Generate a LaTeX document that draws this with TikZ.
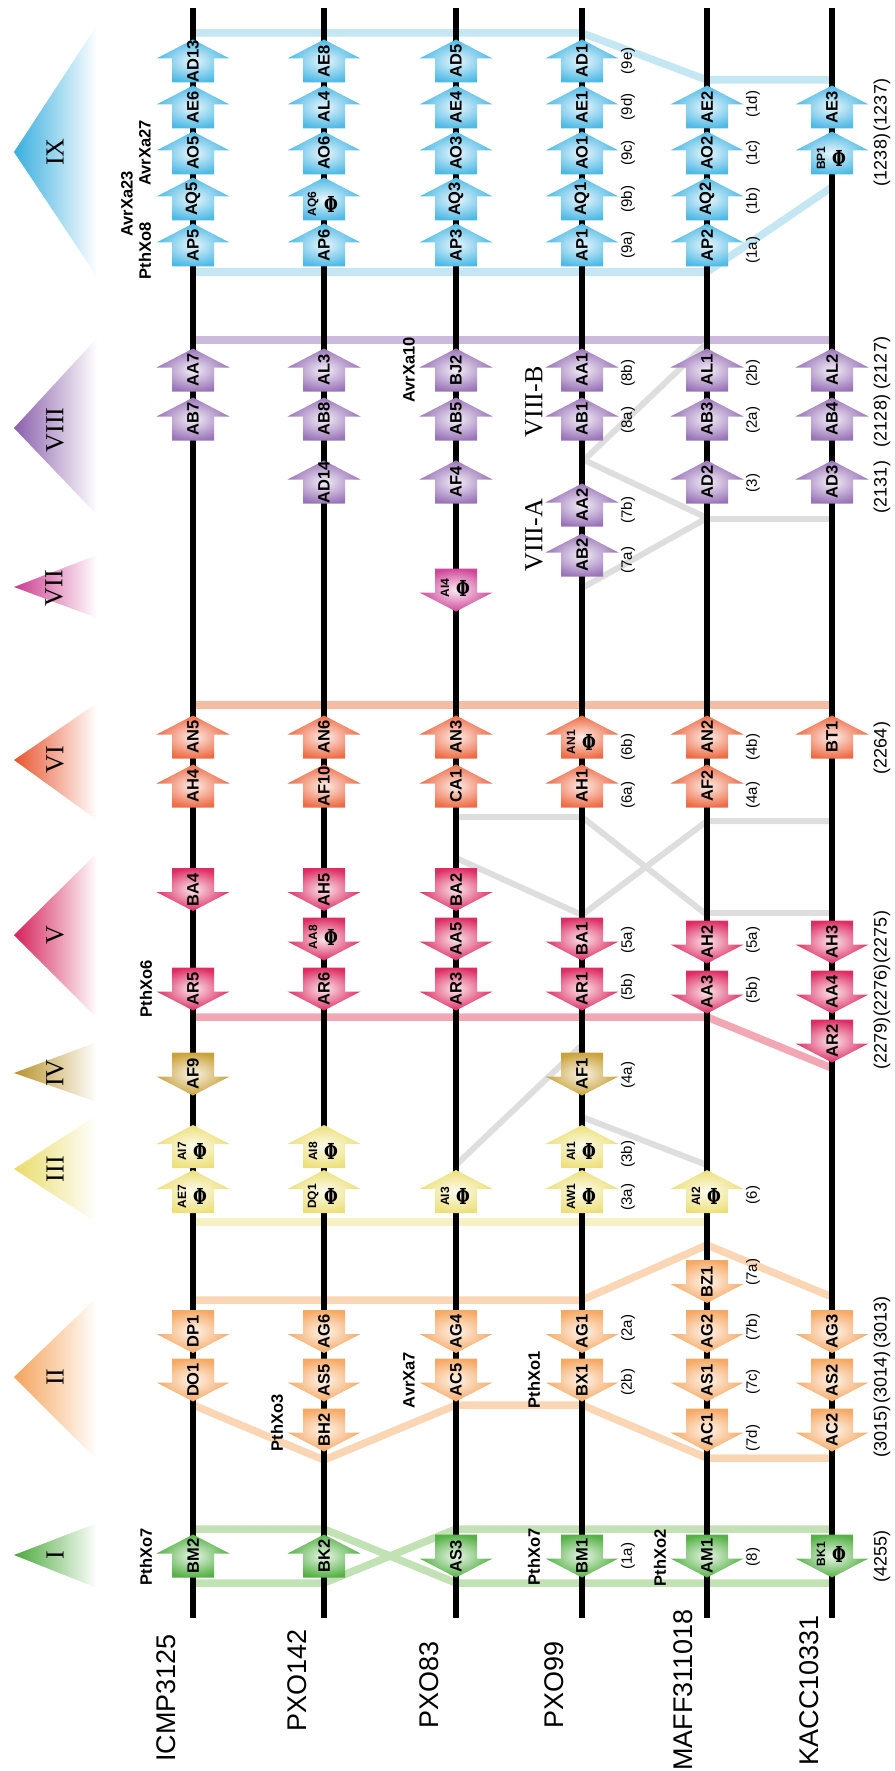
\documentclass[tikz,border=0pt]{standalone}
\usepackage{fontspec}
\setmainfont{Liberation Serif}
\setsansfont{Liberation Sans}
\newfontfamily\phifont{DejaVu Serif}
\definecolor{cIX}{HTML}{4DB9E5}
\definecolor{cIXt}{HTML}{38AEDF}
\definecolor{cIXb}{HTML}{C5E6F3}
\definecolor{cVIII}{HTML}{9A74B8}
\definecolor{cVIIIt}{HTML}{8A60AC}
\definecolor{cVIIIb}{HTML}{CBBADD}
\definecolor{cVII}{HTML}{D0479A}
\definecolor{cVIIt}{HTML}{CC3A8E}
\definecolor{cVI}{HTML}{EE6B45}
\definecolor{cVIt}{HTML}{E8552F}
\definecolor{cVIb}{HTML}{F5BDA3}
\definecolor{cV}{HTML}{DD2D63}
\definecolor{cVt}{HTML}{D5205A}
\definecolor{cVb}{HTML}{F2A8B4}
\definecolor{cIV}{HTML}{C9A23A}
\definecolor{cIVt}{HTML}{B8922A}
\definecolor{cIII}{HTML}{EDE07A}
\definecolor{cIIIt}{HTML}{E9DC6A}
\definecolor{cIIIb}{HTML}{F6F0C2}
\definecolor{cII}{HTML}{F6A964}
\definecolor{cIIt}{HTML}{F4A35A}
\definecolor{cIIb}{HTML}{FBD6B5}
\definecolor{cI}{HTML}{55B145}
\definecolor{cIt}{HTML}{4AA83A}
\definecolor{cIb}{HTML}{C2E1B4}
\definecolor{gline}{HTML}{DEDEDE}
\newcommand{\myphi}{\scalebox{0.72}[1.0]{Φ}}
% up arrow: name, x, centre y, colour, label
\newcommand{\UA}[5]{%
\shade[inner color=#4!12, outer color=#4] ({#2-21},{#3+21.5}) -- ({#2-21},{#3-2.5}) -- ({#2-36.5},{#3-2.5}) -- (#2,{#3-21.5}) -- ({#2+36.5},{#3-2.5}) -- ({#2+21},{#3-2.5}) -- ({#2+21},{#3+21.5}) -- cycle;
\node[albl] (#1) at (#2,#3) {#5};}
\newcommand{\DA}[5]{%
\shade[inner color=#4!12, outer color=#4] ({#2-21},{#3-21.5}) -- ({#2+21},{#3-21.5}) -- ({#2+21},{#3+2.5}) -- ({#2+36.5},{#3+2.5}) -- (#2,{#3+21.5}) -- ({#2-36.5},{#3+2.5}) -- ({#2-21},{#3+2.5}) -- cycle;
\node[albl] (#1) at (#2,#3) {#5};}
\newcommand{\UAP}[5]{%
\shade[inner color=#4!12, outer color=#4] ({#2-21},{#3+21.5}) -- ({#2-21},{#3-2.5}) -- ({#2-36.5},{#3-2.5}) -- (#2,{#3-21.5}) -- ({#2+36.5},{#3-2.5}) -- ({#2+21},{#3-2.5}) -- ({#2+21},{#3+21.5}) -- cycle;
\node[slbl] (#1) at ({#2-11},{#3+5}) {#5};
\node[phi] (#1p) at ({#2+7},{#3+5}) {\myphi};}
\newcommand{\DAP}[5]{%
\shade[inner color=#4!12, outer color=#4] ({#2-21},{#3-21.5}) -- ({#2+21},{#3-21.5}) -- ({#2+21},{#3+2.5}) -- ({#2+36.5},{#3+2.5}) -- (#2,{#3+21.5}) -- ({#2-36.5},{#3+2.5}) -- ({#2-21},{#3+2.5}) -- cycle;
\node[slbl] (#1) at ({#2-11},{#3-2}) {#5};
\node[phi] (#1p) at ({#2+7},{#3-2}) {\myphi};}
\newcommand{\TRI}[4]{% apex y, top y, bottom y, colour
\shade[left color=#4, right color=white] (14,#1) -- (97,#2) -- (97,#3) -- cycle;}
\begin{document}
\begin{tikzpicture}[x=1pt,y=-1pt,
 albl/.style={rotate=90, inner sep=0pt, font=\sffamily\bfseries\fontsize{16.5}{16.5}\selectfont},
 slbl/.style={rotate=90, inner sep=0pt, font=\sffamily\bfseries\fontsize{12}{12}\selectfont},
 phi/.style={inner sep=0pt, font=\phifont\bfseries\fontsize{22}{22}\selectfont},
 eff/.style={rotate=90, inner sep=0pt, font=\sffamily\bfseries\fontsize{16.5}{16.5}\selectfont},
 sub/.style={rotate=90, inner sep=0pt, font=\sffamily\fontsize{15}{15}\selectfont},
 num/.style={rotate=90, inner sep=0pt, font=\sffamily\fontsize{18}{18}\selectfont},
 strain/.style={rotate=90, inner sep=0pt, font=\sffamily\fontsize{27}{27}\selectfont},
 roman/.style={rotate=90, inner sep=0pt, font=\fontsize{26}{26}\selectfont},
 band/.style={line width=7.5pt, line join=round},
 gl/.style={line width=6pt, draw=gline, line join=round},
 strainline/.style={line width=6pt, draw=black},
]
\useasboundingbox (0,0) rectangle (894,1771);
% triangles
\TRI{152}{25}{277}{cIXt}
\TRI{428}{338}{515}{cVIIIt}
\TRI{587}{555}{618}{cVIIt}
\TRI{760}{703}{820}{cVIt}
\TRI{935}{853}{1018}{cVt}
\TRI{1073}{1042}{1102}{cIVt}
\TRI{1169}{1115}{1223}{cIIIt}
\TRI{1377}{1297}{1460}{cIIt}
\TRI{1555}{1523}{1588}{cIt}
\node[roman] (tIX) at (55,152) {IX};
\node[roman] (tVIII) at (55,430) {VIII};
\node[roman] (tVII) at (54,588) {VII};
\node[roman] (tVI) at (55,760) {VI};
\node[roman] (tV) at (55,935) {V};
\node[roman] (tIV) at (55,1073) {IV};
\node[roman] (tIII) at (55,1169) {III};
\node[roman] (tII) at (55,1377) {II};
\node[roman] (tI) at (55,1555) {I};
% bands
\draw[band, cIXb] (193,33) -- (582,33) -- (707,80) -- (832,80);
\draw[band, cIXb] (193,272) -- (707,272) -- (832,187);
\draw[band, cVIIIb] (193,340) -- (832,340);
\draw[band, cVIb] (193,705) -- (832,705);
\draw[band, cVb] (193,1017) -- (707,1017) -- (834,1069);
\draw[band, cIIIb] (193,1222) -- (707,1222);
\draw[band, cIIb] (193,1300) -- (582,1300) -- (707,1245) -- (832,1297);
\draw[band, cIIb] (193,1405) -- (324,1460) -- (456,1405) -- (582,1405) -- (707,1458) -- (832,1458);
\draw[band, cIb] (193,1529) -- (324,1529) -- (456,1583) -- (832,1583);
\draw[band, cIb] (193,1583) -- (324,1583) -- (456,1529) -- (832,1529);
% grey rearrangement lines
\draw[gl] (707,343) -- (584,460) -- (707,518) -- (582,588);
\draw[gl] (707,519) -- (832,519);
\draw[gl] (456,817) -- (582,817) -- (707,915);
\draw[gl] (832,821) -- (707,821) -- (582,915);
\draw[gl] (456,858) -- (582,915);
\draw[gl] (707,913) -- (832,913);
\draw[gl] (582,1045) -- (456,1165);
\draw[gl] (582,1117) -- (707,1165);
% strain lines
\foreach \x in {193,324,456,582,707,832} \draw[strainline] (\x,8) -- (\x,1618);
% IX
\UA{ad13}{193}{61}{cIX}{AD13}
\UA{ae6}{193}{107}{cIX}{AE6}
\UA{ao5}{193}{153}{cIX}{AO5}
\UA{aq5}{193}{199}{cIX}{AQ5}
\UA{ap5}{193}{245}{cIX}{AP5}
\UA{ae8}{324}{61}{cIX}{AE8}
\UA{al4}{324}{107}{cIX}{AL4}
\UA{ao6}{324}{153}{cIX}{AO6}
\UAP{aq6}{324}{199}{cIX}{AQ6}
\UA{ap6}{324}{245}{cIX}{AP6}
\UA{ad5}{456}{61}{cIX}{AD5}
\UA{ae4}{456}{107}{cIX}{AE4}
\UA{ao3}{456}{153}{cIX}{AO3}
\UA{aq3}{456}{199}{cIX}{AQ3}
\UA{ap3}{456}{245}{cIX}{AP3}
\UA{ad1}{582}{61}{cIX}{AD1}
\UA{ae1}{582}{107}{cIX}{AE1}
\UA{ao1}{582}{153}{cIX}{AO1}
\UA{aq1}{582}{199}{cIX}{AQ1}
\UA{ap1}{582}{245}{cIX}{AP1}
\UA{ae2}{707}{107}{cIX}{AE2}
\UA{ao2}{707}{153}{cIX}{AO2}
\UA{aq2}{707}{199}{cIX}{AQ2}
\UA{ap2}{707}{245}{cIX}{AP2}
\UA{ae3}{832}{107}{cIX}{AE3}
\UAP{bp1}{832}{153}{cIX}{BP1}
% VIII
\UA{aa7}{193}{370}{cVIII}{AA7}
\UA{ab7}{193}{419}{cVIII}{AB7}
\UA{al3}{324}{370}{cVIII}{AL3}
\UA{ab8}{324}{419}{cVIII}{AB8}
\UA{ad14}{324}{482}{cVIII}{AD14}
\UA{bj2}{456}{370}{cVIII}{BJ2}
\UA{ab5}{456}{419}{cVIII}{AB5}
\UA{af4}{456}{482}{cVIII}{AF4}
\UA{aa1}{582}{370}{cVIII}{AA1}
\UA{ab1}{582}{419}{cVIII}{AB1}
\UA{aa2}{582}{505}{cVIII}{AA2}
\UA{ab2}{582}{555}{cVIII}{AB2}
\UA{al1}{707}{370}{cVIII}{AL1}
\UA{ab3}{707}{419}{cVIII}{AB3}
\UA{ad2}{707}{482}{cVIII}{AD2}
\UA{al2}{832}{370}{cVIII}{AL2}
\UA{ab4}{832}{419}{cVIII}{AB4}
\UA{ad3}{832}{482}{cVIII}{AD3}
% VII
\DAP{ai4}{456}{590}{cVII}{AI4}
% VI
\UA{an5}{193}{737}{cVI}{AN5}
\UA{ah4}{193}{786}{cVI}{AH4}
\UA{an6}{324}{737}{cVI}{AN6}
\UA{af10}{324}{786}{cVI}{AF10}
\UA{an3}{456}{737}{cVI}{AN3}
\UA{ca1}{456}{786}{cVI}{CA1}
\UAP{an1}{582}{737}{cVI}{AN1}
\UA{ah1}{582}{786}{cVI}{AH1}
\UA{an2}{707}{737}{cVI}{AN2}
\UA{af2}{707}{786}{cVI}{AF2}
\UA{bt1}{832}{737}{cVI}{BT1}
% V
\DA{ba4}{193}{889.5}{cV}{BA4}
\DA{ar5}{193}{989}{cV}{AR5}
\DA{ah5}{324}{889.5}{cV}{AH5}
\DAP{aa8}{324}{939}{cV}{AA8}
\DA{ar6}{324}{989}{cV}{AR6}
\DA{ba2}{456}{889.5}{cV}{BA2}
\DA{aa5}{456}{939}{cV}{AA5}
\DA{ar3}{456}{989}{cV}{AR3}
\DA{ba1}{582}{939}{cV}{BA1}
\DA{ar1}{582}{989}{cV}{AR1}
\DA{ah2}{707}{942}{cV}{AH2}
\DA{aa3}{707}{992}{cV}{AA3}
\DA{ah3}{832}{942}{cV}{AH3}
\DA{aa4}{832}{992}{cV}{AA4}
\DA{ar2}{832}{1041}{cV}{AR2}
% IV
\DA{af9}{193}{1074}{cIV}{AF9}
\DA{af1}{582}{1074}{cIV}{AF1}
% III
\UAP{ai7}{193}{1146.5}{cIII}{AI7}
\UAP{ae7}{193}{1191.5}{cIII}{AE7}
\UAP{ai8}{324}{1146.5}{cIII}{AI8}
\UAP{dq1}{324}{1191.5}{cIII}{DQ1}
\UAP{ai3}{456}{1191.5}{cIII}{AI3}
\UAP{ai1}{582}{1146.5}{cIII}{AI1}
\UAP{aw1}{582}{1191.5}{cIII}{AW1}
\UAP{ai2}{707}{1191.5}{cIII}{AI2}
% II
\DA{dp1}{193}{1331.5}{cII}{DP1}
\DA{do1}{193}{1380}{cII}{DO1}
\DA{ag6}{324}{1331.5}{cII}{AG6}
\DA{as5}{324}{1380}{cII}{AS5}
\DA{bh2}{324}{1430}{cII}{BH2}
\DA{ag4}{456}{1331.5}{cII}{AG4}
\DA{ac5}{456}{1380}{cII}{AC5}
\DA{ag1}{582}{1331.5}{cII}{AG1}
\DA{bx1}{582}{1380}{cII}{BX1}
\DA{bz1}{707}{1281.5}{cII}{BZ1}
\DA{ag2}{707}{1331.5}{cII}{AG2}
\DA{as1}{707}{1380}{cII}{AS1}
\DA{ac1}{707}{1430}{cII}{AC1}
\DA{ag3}{832}{1331.5}{cII}{AG3}
\DA{as2}{832}{1380}{cII}{AS2}
\DA{ac2}{832}{1430}{cII}{AC2}
% I
\UA{bm2}{193}{1556}{cI}{BM2}
\UA{bk2}{324}{1556}{cI}{BK2}
\DA{as3}{456}{1556}{cI}{AS3}
\DA{bm1}{582}{1556}{cI}{BM1}
\DA{am1}{707}{1556}{cI}{AM1}
\DAP{bk1}{832}{1556}{cI}{BK1}
% effector names
\node[eff] (pthxo8) at (145,251) {PthXo8};
\node[eff] (avrxa23) at (127,204) {AvrXa23};
\node[eff] (avrxa27) at (145,153) {AvrXa27};
\node[eff] (avrxa10) at (409,370) {AvrXa10};
\node[eff] (pthxo6) at (146,989) {PthXo6};
\node[eff] (pthxo3) at (277,1423) {PthXo3};
\node[eff] (avrxa7) at (409,1380) {AvrXa7};
\node[eff] (pthxo1) at (534,1380) {PthXo1};
\node[eff] (pthxo7a) at (146,1557) {PthXo7};
\node[eff] (pthxo7b) at (534,1557) {PthXo7};
\node[eff] (pthxo2) at (660,1558) {PthXo2};
\node[roman] (viiib) at (534,402) {VIII-B};
\node[roman] (viiia) at (534,535) {VIII-A};
% sub-group labels, PXO99
\node[sub] (s9e) at (628,61) {(9e)};
\node[sub] (s9d) at (628,107) {(9d)};
\node[sub] (s9c) at (628,153) {(9c)};
\node[sub] (s9b) at (628,199) {(9b)};
\node[sub] (s9a) at (628,245) {(9a)};
\node[sub] (s8b) at (628,373) {(8b)};
\node[sub] (s8a) at (628,420) {(8a)};
\node[sub] (s7b) at (628,510) {(7b)};
\node[sub] (s7a) at (628,560) {(7a)};
\node[sub] (s6b) at (628,747) {(6b)};
\node[sub] (s6a) at (628,795) {(6a)};
\node[sub] (s5a) at (628,940) {(5a)};
\node[sub] (s5b) at (628,987) {(5b)};
\node[sub] (s4a) at (628,1075) {(4a)};
\node[sub] (s3b) at (628,1154) {(3b)};
\node[sub] (s3a) at (628,1197) {(3a)};
\node[sub] (s2a) at (628,1328) {(2a)};
\node[sub] (s2b) at (628,1382) {(2b)};
\node[sub] (s1a) at (628,1556) {(1a)};
% MAFF311018
\node[sub] (m1d) at (753,104) {(1d)};
\node[sub] (m1c) at (753,153) {(1c)};
\node[sub] (m1b) at (753,201) {(1b)};
\node[sub] (m1a) at (753,250) {(1a)};
\node[sub] (m2b) at (753,373) {(2b)};
\node[sub] (m2a) at (753,420) {(2a)};
\node[sub] (m3) at (753,483) {(3)};
\node[sub] (m4b) at (753,747) {(4b)};
\node[sub] (m4a) at (753,795) {(4a)};
\node[sub] (m5a) at (753,940) {(5a)};
\node[sub] (m5b) at (753,990) {(5b)};
\node[sub] (m6) at (753,1195) {(6)};
\node[sub] (m7a) at (753,1272) {(7a)};
\node[sub] (m7b) at (753,1327) {(7b)};
\node[sub] (m7c) at (753,1382) {(7c)};
\node[sub] (m7d) at (753,1438) {(7d)};
\node[sub] (m8) at (753,1557) {(8)};
% KACC10331 sizes
\node[num] (k1237) at (882,105) {(1237)};
\node[num] (k1238) at (882,160) {(1238)};
\node[num] (k2127) at (882,363) {(2127)};
\node[num] (k2128) at (882,421) {(2128)};
\node[num] (k2131) at (882,487) {(2131)};
\node[num] (k2264) at (882,748) {(2264)};
\node[num] (k2275) at (882,937) {(2275)};
\node[num] (k2276) at (882,990) {(2276)};
\node[num] (k2279) at (882,1043) {(2279)};
\node[num] (k3013) at (882,1322) {(3013)};
\node[num] (k3014) at (882,1377) {(3014)};
\node[num] (k3015) at (882,1431) {(3015)};
\node[num] (k4255) at (882,1556) {(4255)};
% strain names
\node[strain] (icmp) at (166,1698) {ICMP3125};
\node[strain] (pxo142) at (297,1680) {PXO142};
\node[strain] (pxo83) at (429,1685) {PXO83};
\node[strain] (pxo99) at (554,1685) {PXO99};
\node[strain] (maff) at (683,1690) {MAFF311018};
\node[strain] (kacc) at (809,1690) {KACC10331};
\end{tikzpicture}
\end{document}
